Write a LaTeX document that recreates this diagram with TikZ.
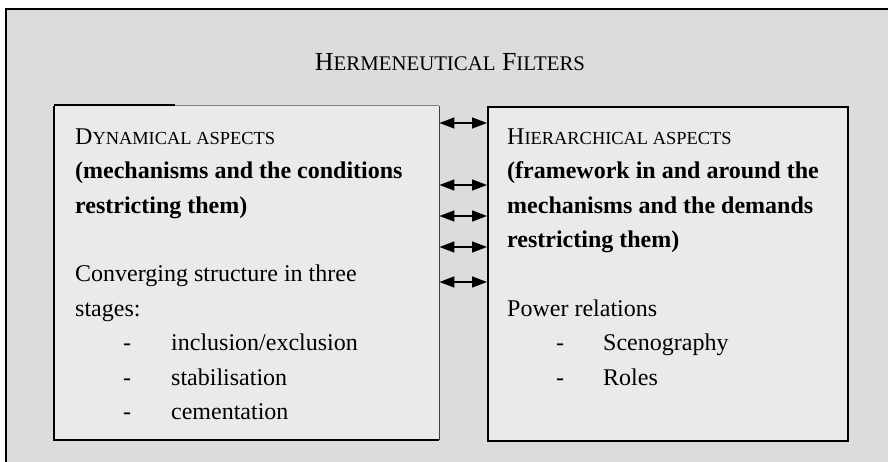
\documentclass[tikz,border=0pt]{standalone}
\usepackage{fontspec}
\setmainfont{Liberation Serif}
\usetikzlibrary{arrows.meta}

\definecolor{framegray}{HTML}{DCDCDC}
\definecolor{boxgray}{HTML}{EAEAEA}

% small capitals built from scaled upper-case letters
\newcommand\headsc[1]{{\fontsize{18.4}{18.4}\selectfont #1}}
\newcommand\titlesc[1]{{\fontsize{20.8}{20.8}\selectfont #1}}

\begin{document}
\begin{tikzpicture}[x=1pt,y=-1pt,
  panel/.style={fill=boxgray, inner sep=0pt, anchor=north west},
  body/.style={anchor=base west, inner sep=0pt, font=\fontsize{24}{34.4}\selectfont},
  biarrow/.style={{Triangle[length=15pt,width=11pt]}-{Triangle[length=15pt,width=11pt]}, line width=1.4pt},
]
\useasboundingbox (0,0) rectangle (888,462);

% outer grey frame, open towards the right and the bottom
\begin{scope}
  \clip (0,0) rectangle (888,462);
  \fill[white] (0,0) rectangle (888,462);
  \node[fill=framegray, anchor=north west, minimum width=900pt, minimum height=470pt, inner sep=0pt] (frame) at (6,9) {};
  \draw[line width=2pt] (frame.north east) -- (frame.north west) -- (frame.south west);
\end{scope}

% title
\node[anchor=base, inner sep=0pt, font=\fontsize{26}{26}\selectfont] (title) at (450,70.7)
  {H\titlesc{ERMENEUTICAL} F\titlesc{ILTERS}};

% left panel
\node[panel, minimum width=385pt, minimum height=334pt] (dyn) at (54,106) {};
\draw[line width=1pt, draw=black!50] (dyn.north west) -- (dyn.north east);
\draw[line width=2pt] (dyn.north west) ++(0,-1) -- ++(121,0);
\draw[line width=1.3pt, draw=black!75] (dyn.north east) -- (dyn.south east);
\draw[line width=2pt] (dyn.north west) -- (dyn.south west) -- (dyn.south east);

% right panel
\node[panel, draw, line width=2pt, minimum width=360pt, minimum height=334pt] (hier) at (487,106) {};

% panel texts
\node[body] (dyntext) at (75,144.3) {\parbox[t]{360pt}{\raggedright
  D\headsc{YNAMICAL ASPECTS}\\
  \textbf{(mechanisms and the conditions}\\
  \textbf{restricting them)}\\
  \mbox{}\\
  Converging structure in three\\
  stages:\\
  \hspace*{48pt}\makebox[48pt][l]{-}inclusion/exclusion\\
  \hspace*{48pt}\makebox[48pt][l]{-}stabilisation\\
  \hspace*{48pt}\makebox[48pt][l]{-}cementation}};

\node[body] (hiertext) at (507,144.3) {\parbox[t]{330pt}{\raggedright
  H\headsc{IERARCHICAL ASPECTS}\\
  \textbf{(framework in and around the}\\
  \textbf{mechanisms and the demands}\\
  \textbf{restricting them)}\\
  \mbox{}\\
  Power relations\\
  \hspace*{49pt}\makebox[47pt][l]{-}Scenography\\
  \hspace*{49pt}\makebox[47pt][l]{-}Roles}};

% two-way connectors between the panels
\foreach \yy [count=\i] in {123,185,216,247,282} {
  \coordinate (lvl\i) at (0,\yy);
  \draw[biarrow] (dyn.east |- lvl\i) -- (hier.west |- lvl\i);
}
\end{tikzpicture}
\end{document}
